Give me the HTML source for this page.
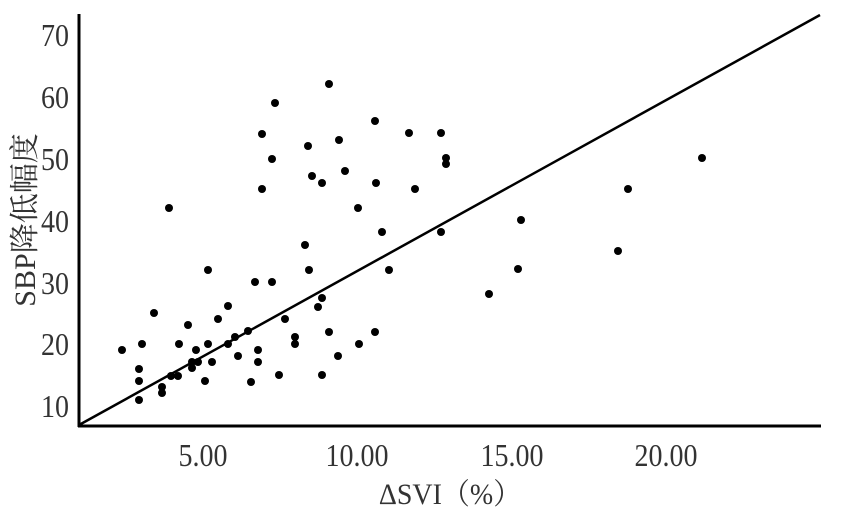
<!DOCTYPE html>
<html><head><meta charset="utf-8"><style>
html,body{margin:0;padding:0;background:#fff;}
svg{display:block;}
text{font-family:"Liberation Serif","Noto Serif CJK SC",serif;fill:#333;}
</style></head><body>
<svg width="841" height="509" viewBox="0 0 841 509">
<line x1="79" y1="14" x2="79" y2="427" stroke="#000" stroke-width="3"/>
<line x1="78" y1="426" x2="821" y2="426" stroke="#000" stroke-width="3"/>
<line x1="79" y1="425" x2="820" y2="15" stroke="#000" stroke-width="2.5"/>
<g font-size="28" text-anchor="end">
<text transform="translate(69,46) scale(1,1.12)">70</text>
<text transform="translate(69,108) scale(1,1.12)">60</text>
<text transform="translate(69,170) scale(1,1.12)">50</text>
<text transform="translate(69,232) scale(1,1.12)">40</text>
<text transform="translate(69,294) scale(1,1.12)">30</text>
<text transform="translate(69,355) scale(1,1.12)">20</text>
<text transform="translate(69,417) scale(1,1.12)">10</text>
</g>
<g font-size="28" text-anchor="middle">
<text transform="translate(203,466) scale(1,1.12)">5.00</text>
<text transform="translate(357,466) scale(1,1.12)">10.00</text>
<text transform="translate(512,466) scale(1,1.12)">15.00</text>
<text transform="translate(666,466) scale(1,1.12)">20.00</text>
<text transform="translate(450,504) scale(1,1.05)">ΔSVI（%）</text>
</g>
<text font-size="30" text-anchor="middle" transform="translate(35,220) rotate(-90)">SBP降低幅度</text>
<g fill="#000">
<circle cx="122" cy="350" r="4"/><circle cx="139" cy="369" r="4"/><circle cx="139" cy="381" r="4"/><circle cx="139" cy="400" r="4"/>
<circle cx="142" cy="344" r="4"/><circle cx="154" cy="313" r="4"/><circle cx="162" cy="387" r="4"/><circle cx="162" cy="393" r="4"/>
<circle cx="171" cy="376" r="4"/><circle cx="178" cy="376" r="4"/><circle cx="179" cy="344" r="4"/><circle cx="188" cy="325" r="4"/>
<circle cx="192" cy="362" r="4"/><circle cx="192" cy="368" r="4"/><circle cx="196" cy="350" r="4"/><circle cx="198" cy="362" r="4"/>
<circle cx="205" cy="381" r="4"/><circle cx="208" cy="344" r="4"/><circle cx="208" cy="270" r="4"/><circle cx="212" cy="362" r="4"/>
<circle cx="218" cy="319" r="4"/><circle cx="228" cy="306" r="4"/><circle cx="228" cy="344" r="4"/><circle cx="238" cy="356" r="4"/>
<circle cx="235" cy="337" r="4"/>
<circle cx="248" cy="331" r="4"/><circle cx="251" cy="382" r="4"/><circle cx="255" cy="282" r="4"/><circle cx="258" cy="350" r="4"/>
<circle cx="258" cy="362" r="4"/><circle cx="262" cy="134" r="4"/><circle cx="262" cy="189" r="4"/><circle cx="272" cy="159" r="4"/>
<circle cx="272" cy="282" r="4"/><circle cx="275" cy="103" r="4"/><circle cx="279" cy="375" r="4"/><circle cx="285" cy="319" r="4"/>
<circle cx="295" cy="337" r="4"/><circle cx="295" cy="344" r="4"/><circle cx="305" cy="245" r="4"/><circle cx="308" cy="146" r="4"/>
<circle cx="309" cy="270" r="4"/><circle cx="312" cy="176" r="4"/><circle cx="318" cy="307" r="4"/><circle cx="322" cy="298" r="4"/>
<circle cx="322" cy="183" r="4"/><circle cx="322" cy="375" r="4"/><circle cx="329" cy="84" r="4"/><circle cx="329" cy="332" r="4"/>
<circle cx="338" cy="356" r="4"/><circle cx="339" cy="140" r="4"/><circle cx="345" cy="171" r="4"/><circle cx="358" cy="208" r="4"/>
<circle cx="359" cy="344" r="4"/><circle cx="375" cy="121" r="4"/><circle cx="376" cy="183" r="4"/><circle cx="375" cy="332" r="4"/>
<circle cx="382" cy="232" r="4"/><circle cx="389" cy="270" r="4"/><circle cx="169" cy="208" r="4"/><circle cx="409" cy="133" r="4"/>
<circle cx="415" cy="189" r="4"/><circle cx="441" cy="133" r="4"/><circle cx="441" cy="232" r="4"/><circle cx="446" cy="158" r="4"/>
<circle cx="446" cy="164" r="4"/><circle cx="521" cy="220" r="4"/><circle cx="518" cy="269" r="4"/><circle cx="489" cy="294" r="4"/>
<circle cx="618" cy="251" r="4"/><circle cx="628" cy="189" r="4"/><circle cx="702" cy="158" r="4"/>
</g>
</svg>
</body></html>
